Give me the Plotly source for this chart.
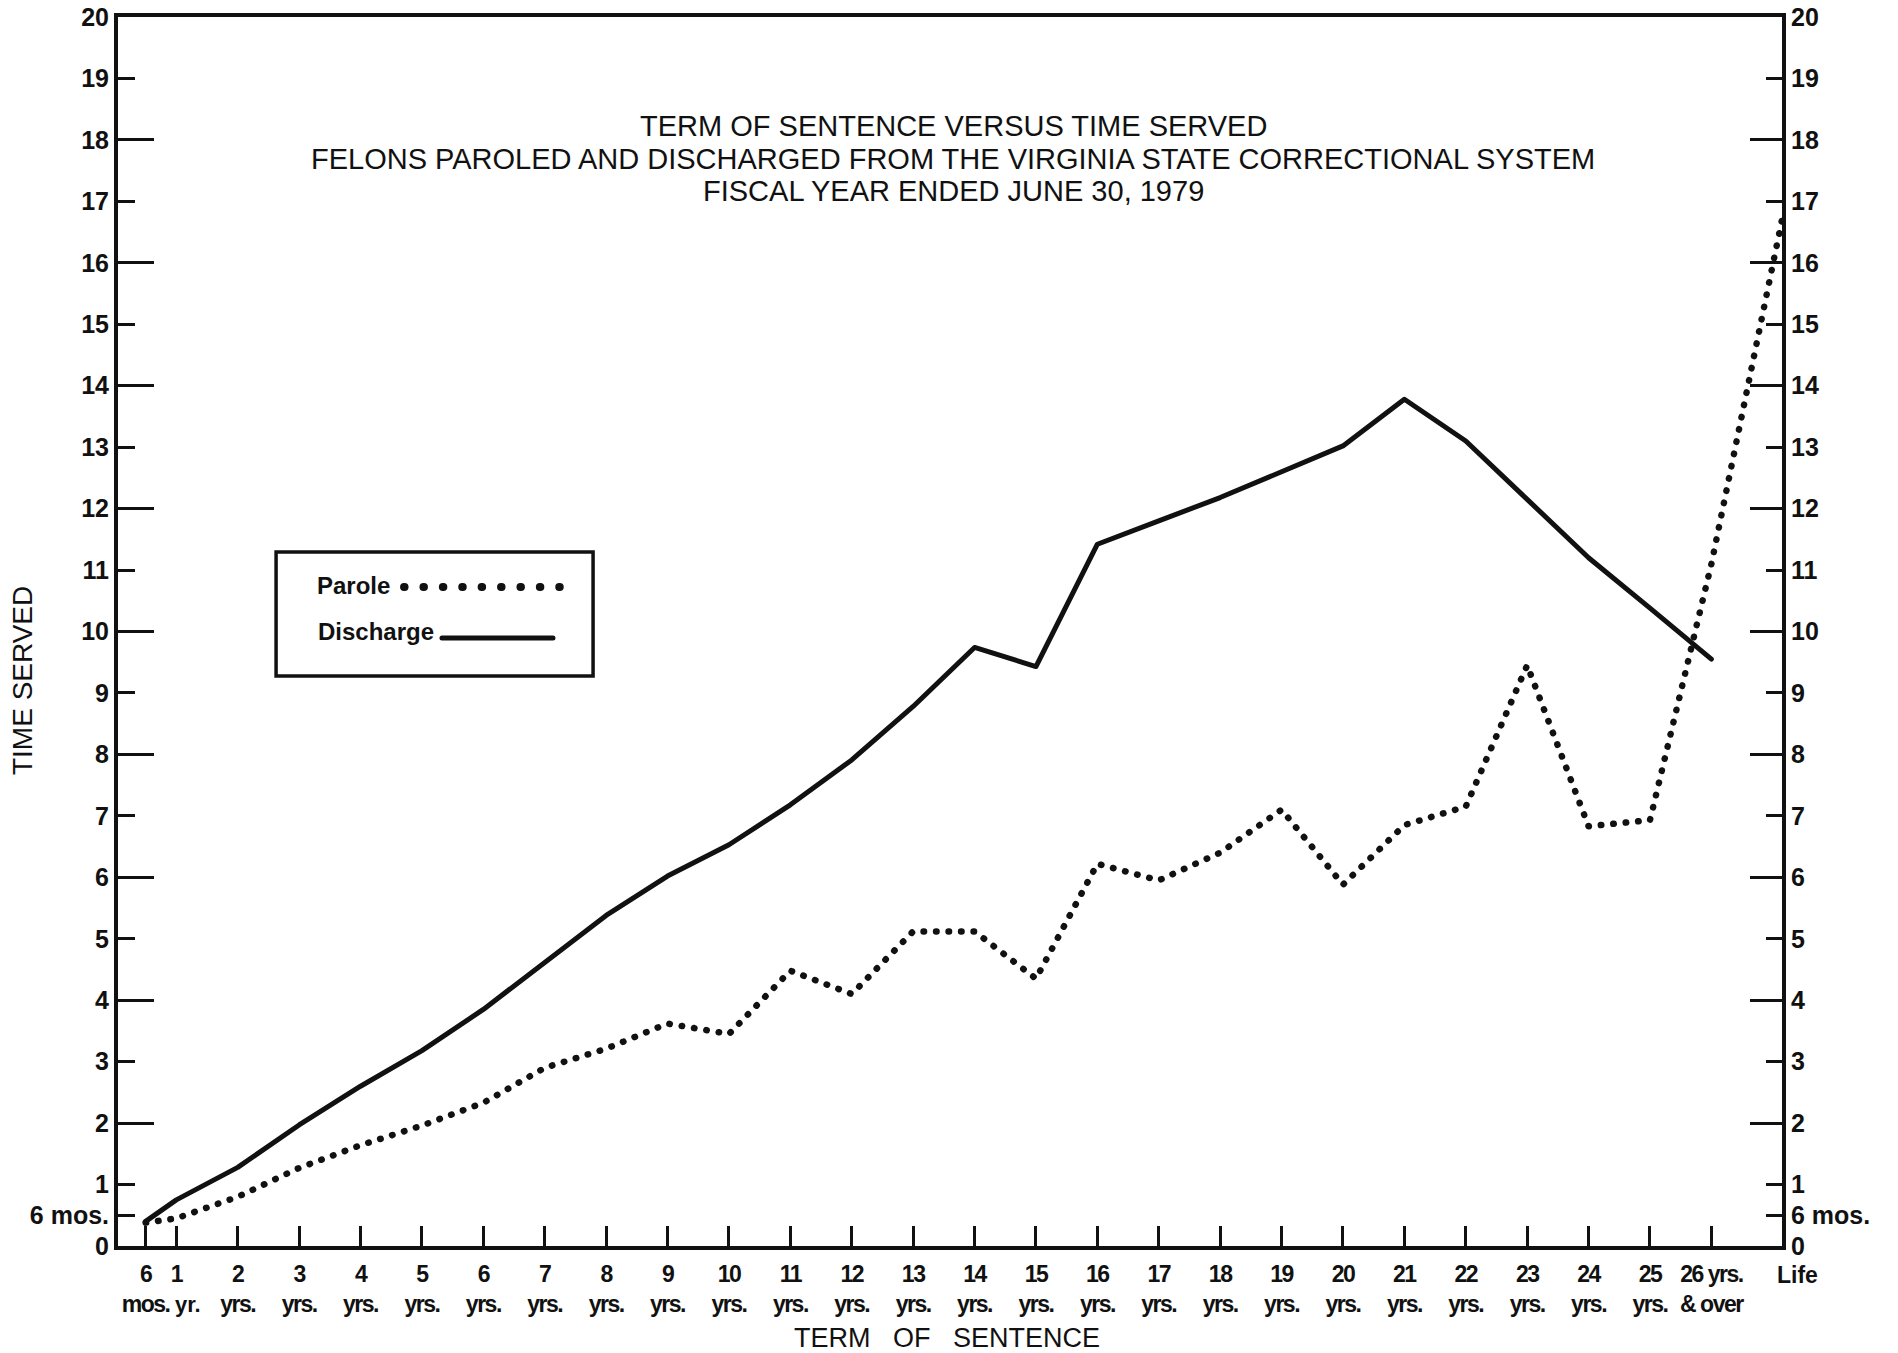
import plotly.graph_objects as go

# ---------------- data ----------------
term_years = [0.5, 1, 2, 3, 4, 5, 6, 7, 8, 9, 10, 11, 12, 13, 14, 15, 16, 17, 18,
              19, 20, 21, 22, 23, 24, 25, 26]
term_top = ["6", "1", "2", "3", "4", "5", "6", "7", "8", "9", "10", "11", "12", "13",
            "14", "15", "16", "17", "18", "19", "20", "21", "22", "23", "24", "25", "26 yrs."]
term_bottom = ["mos.", "", "yrs.", "yrs.", "yrs.", "yrs.", "yrs.", "yrs.", "yrs.",
               "yrs.", "yrs.", "yrs.", "yrs.", "yrs.", "yrs.", "yrs.", "yrs.", "yrs.", "yrs.",
               "yrs.", "yrs.", "yrs.", "yrs.", "yrs.", "yrs.", "yrs.", "& over"]
one_year_unit = "yr."
one_year_unit_x = 1.19
life_label = "Life"
life_x = 27.15

discharge = [0.40, 0.75, 1.28, 1.97, 2.60, 3.18, 3.85, 4.62, 5.38, 6.02, 6.53, 7.18,
             7.91, 8.78, 9.74, 9.43, 11.42, 11.80, 12.18, 12.60, 13.02, 13.78, 13.10,
             12.15, 11.20, 10.38, 9.55]
parole = [0.38, 0.45, 0.80, 1.27, 1.64, 1.96, 2.33, 2.90, 3.21, 3.62, 3.45, 4.48,
          4.10, 5.12, 5.12, 4.35, 6.22, 5.95, 6.40, 7.10, 5.88, 6.85, 7.15, 9.45,
          6.83, 6.93, 11.10]
parole_life = 16.70

y_vals = [0, 0.5, 1, 2, 3, 4, 5, 6, 7, 8, 9, 10, 11, 12, 13, 14, 15, 16, 17, 18, 19, 20]
y_text = ["0", "6 mos.", "1", "2", "3", "4", "5", "6", "7", "8", "9", "10", "11", "12",
          "13", "14", "15", "16", "17", "18", "19", "20"]
y_long = [2, 4, 6, 8, 10, 12, 14, 16, 18]

title_lines = ["TERM OF SENTENCE VERSUS TIME SERVED",
               "FELONS PAROLED AND DISCHARGED FROM THE VIRGINIA STATE CORRECTIONAL SYSTEM",
               "FISCAL YEAR ENDED JUNE 30, 1979"]

INK = "#111111"
SANS = "Liberation Sans, Arial, sans-serif"

fig = go.Figure()
fig.add_trace(go.Scatter(x=term_years, y=discharge, mode="lines",
                         line=dict(color=INK, width=5), showlegend=False,
                         hoverinfo="skip"))
fig.add_trace(go.Scatter(x=term_years + [life_x], y=parole + [parole_life], mode="lines",
                         line=dict(color=INK, width=6.5, dash="0.5px,12px"),
                         cliponaxis=False, showlegend=False, hoverinfo="skip"))
for ya in ["y2", "y3", "y4"]:
    fig.add_trace(go.Scatter(x=[], y=[], yaxis=ya, showlegend=False, hoverinfo="skip"))

tick_font_y = dict(family=SANS, size=25, color=INK, weight="bold")
common_y = dict(range=[0, 20], showgrid=False, zeroline=False, tickcolor=INK,
                automargin=False)

fig.update_layout(
    width=1898, height=1353,
    margin=dict(l=118, r=116, t=17, b=107),
    paper_bgcolor="white", plot_bgcolor="white",
    xaxis=dict(range=[0.05, 27.15], tickmode="array", tickvals=term_years,
               ticktext=[f"{a}<br>{b}" for a, b in zip(term_top, term_bottom)],
               ticks="inside", ticklen=20, tickwidth=2.5, tickcolor=INK,
               showline=True, linewidth=4, linecolor=INK, mirror=True,
               showgrid=False, zeroline=False, tickangle=0, automargin=False,
               tickfont=dict(family=SANS, size=23, color=INK, weight="bold"),
               ticklabelstandoff=4),
    yaxis=dict(**common_y, tickmode="array", tickvals=y_vals, ticktext=y_text,
               ticks="inside", ticklen=17, tickwidth=2.5,
               showline=True, linewidth=4, linecolor=INK, tickfont=tick_font_y),
    yaxis2=dict(**common_y, overlaying="y", side="right", anchor="x",
                tickmode="array", tickvals=y_vals, ticktext=y_text,
                ticks="inside", ticklen=16, tickwidth=2.5,
                showline=True, linewidth=4, linecolor=INK, tickfont=tick_font_y),
    yaxis3=dict(**common_y, overlaying="y", side="left", anchor="x",
                tickmode="array", tickvals=y_long, ticks="inside", ticklen=36,
                tickwidth=2.5, showticklabels=False, showline=False),
    yaxis4=dict(**common_y, overlaying="y", side="right", anchor="x",
                tickmode="array", tickvals=y_long, ticks="inside", ticklen=32,
                tickwidth=2.5, showticklabels=False, showline=False),
)

# titles
ann = []
for line, yp in zip(title_lines, [0.9113, 0.8845, 0.8584]):
    ann.append(dict(text=line, x=0.502, y=yp, xref="paper", yref="paper",
                    xanchor="center", yanchor="middle", showarrow=False,
                    font=dict(family=SANS, size=29, color=INK)))
ann.append(dict(text="TERM\u00a0\u00a0\u00a0OF\u00a0\u00a0\u00a0SENTENCE", x=0.498, y=-0.0749,
                xref="paper", yref="paper", xanchor="center", yanchor="middle",
                showarrow=False, font=dict(family=SANS, size=27, color=INK)))
ann.append(dict(text="TIME SERVED", x=-0.0577, y=0.4605, xref="paper", yref="paper",
                xanchor="center", yanchor="middle", textangle=-90, showarrow=False,
                font=dict(family=SANS, size=28, color=INK)))
ann.append(dict(text=life_label, x=1.0096, y=-0.0236, xref="paper", yref="paper",
                xanchor="center", yanchor="middle", showarrow=False,
                font=dict(family=SANS, size=23, color=INK, weight="bold")))
ann.append(dict(text=one_year_unit, x=one_year_unit_x, y=-0.0472, xref="x", yref="paper",
                xanchor="center", yanchor="middle", showarrow=False,
                font=dict(family=SANS, size=22, color=INK, weight="bold")))
# legend texts
ann.append(dict(text="Parole", x=0.1184, y=0.5378, xref="paper", yref="paper",
                xanchor="left", yanchor="middle", showarrow=False,
                font=dict(family=SANS, size=24, color=INK, weight="bold")))
ann.append(dict(text="Discharge", x=0.119, y=0.4996, xref="paper", yref="paper",
                xanchor="left", yanchor="middle", showarrow=False,
                font=dict(family=SANS, size=24, color=INK, weight="bold")))
fig.update_layout(annotations=ann)

fig.update_layout(shapes=[
    dict(type="rect", xref="paper", yref="paper", x0=0.0950, x1=0.2855, y0=0.4638, y1=0.5647,
         line=dict(color=INK, width=3.5), fillcolor="rgba(0,0,0,0)"),
    dict(type="line", xref="paper", yref="paper", x0=0.1719, x1=0.2660, y0=0.5362, y1=0.5362,
         line=dict(color=INK, width=8, dash="0.5px,18.9px")),
    dict(type="line", xref="paper", yref="paper", x0=0.1947, x1=0.2614, y0=0.4947, y1=0.4947,
         line=dict(color=INK, width=5)),
])

post = """
var st = document.createElement('style');
st.textContent = 'html,body{margin:0;padding:0;background:#fff;} .js-line{stroke-linecap:round;stroke-linejoin:round;} .shapelayer path{stroke-linecap:round;} .xtick text{letter-spacing:-1.5px;}';
document.head.appendChild(st);
"""
fig.write_html("out.html", post_script=post, config={"displayModeBar": False})
